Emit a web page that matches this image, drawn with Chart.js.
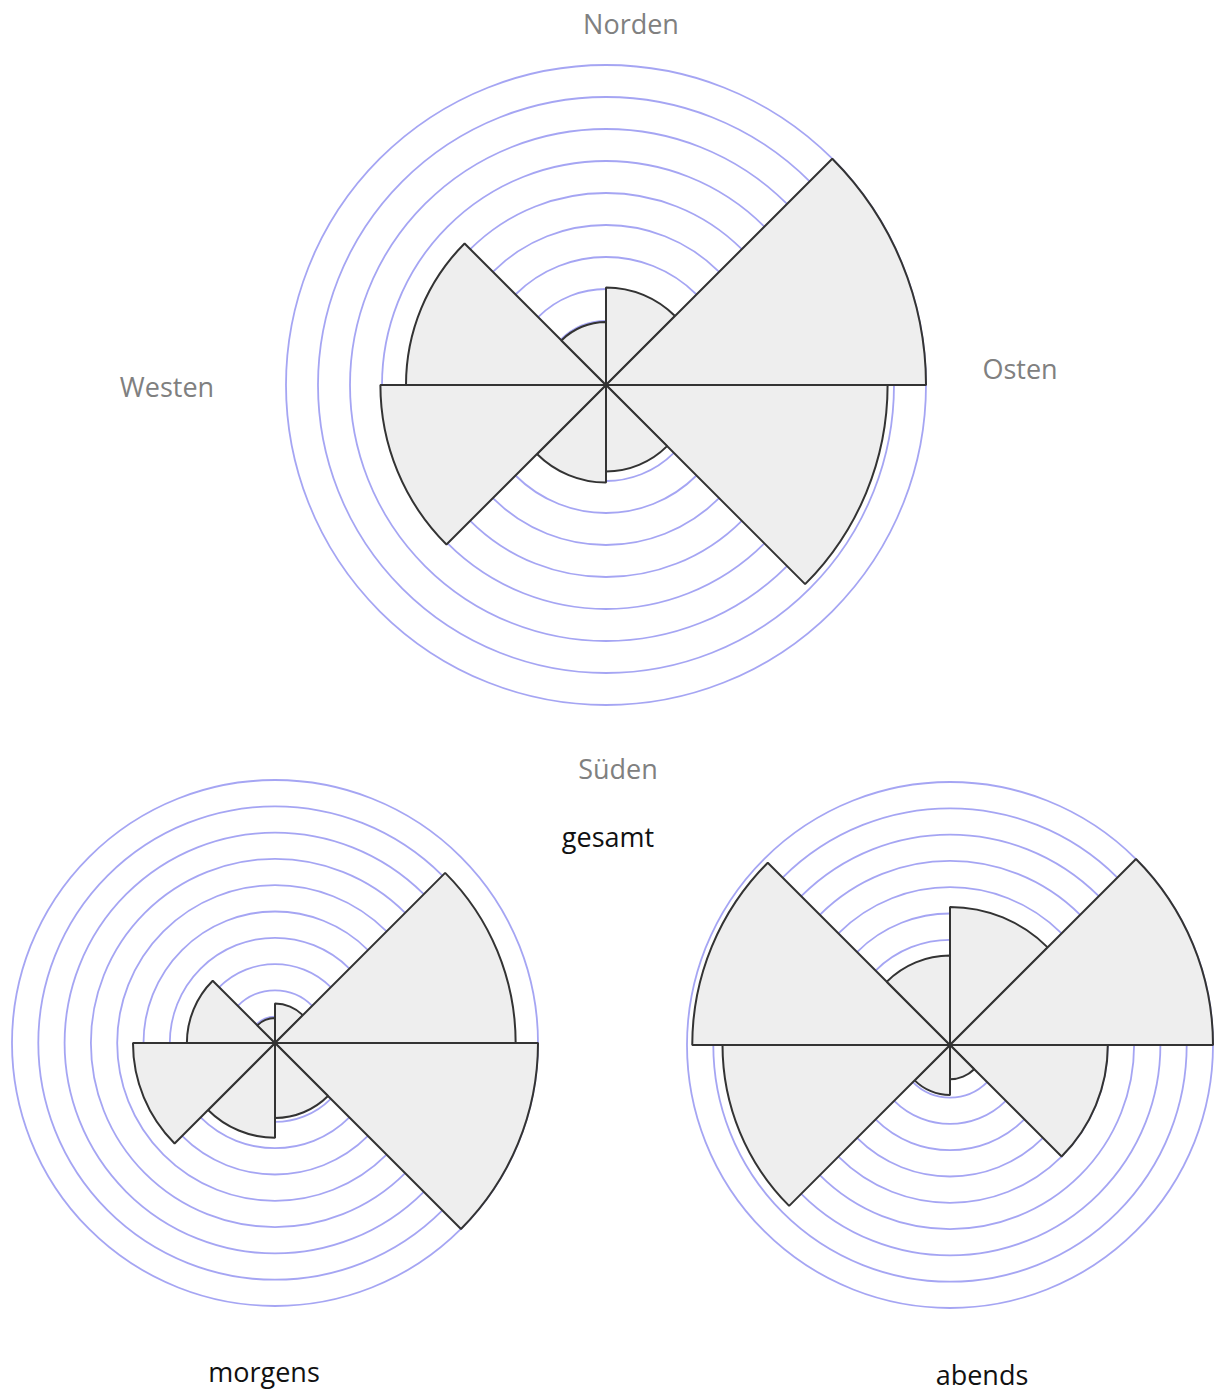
<!DOCTYPE html>
<html>
<head>
<meta charset="utf-8">
<script src="https://cdn.jsdelivr.net/npm/chart.js@4/dist/chart.umd.min.js"></script>
<style>
  html, body { margin: 0; padding: 0; background: #fff; overflow: hidden; width: 1214px; height: 1389px; }
  .wrap { position: absolute; }
  .lbl { position: absolute; transform: translate(-50%, -50%); font-family: "Open Sans", "Noto Sans", sans-serif; font-size: 27px; white-space: nowrap; }
  .dir { color: #808080; }
  .ttl { color: #111; }
</style>
</head>
<body>
<div class="wrap" id="w0" style="left:276px; top:55px; width:660px; height:660px;"><canvas id="c0"></canvas></div>
<div class="wrap" id="w1" style="left:2px; top:770px; width:546px; height:546px;"><canvas id="c1"></canvas></div>
<div class="wrap" id="w2" style="left:677px; top:772px; width:546px; height:546px;"><canvas id="c2"></canvas></div>

<div class="lbl dir" style="left:631px; top:23px;">Norden</div>
<div class="lbl dir" style="left:1020px; top:368px;">Osten</div>
<div class="lbl dir" style="left:618px; top:768px;">Süden</div>
<div class="lbl dir" style="left:167px; top:386px;">Westen</div>
<div class="lbl ttl" style="left:608px; top:836px;">gesamt</div>
<div class="lbl ttl" style="left:264px; top:1371px;">morgens</div>
<div class="lbl ttl" style="left:982px; top:1374px;">abends</div>

<script>
// Wind directions (sectors clockwise from north)
const directions = ['N–NO', 'NO–O', 'O–SO', 'SO–S', 'S–SW', 'SW–W', 'W–NW', 'NW–N'];
// Values per sector (grid ring = 1 unit)
const gesamt  = [3.05, 10, 8.8, 2.7, 3.05, 7.05, 6.25, 1.97];
const morgens = [1.5, 9.15, 10, 2.85, 3.6, 5.4, 3.35, 0.95];
const abends  = [5.25, 10, 6.0, 1.3, 1.9, 8.65, 9.8, 3.4];
const scaleMax = 10;
const scaleStep = 1;

function makeChart(id, values, width) {
  const canvas = document.getElementById(id);
  canvas.width = width; canvas.height = width;
  canvas.style.width = width + 'px'; canvas.style.height = width + 'px';
  return new Chart(canvas, {
    type: 'polarArea',
    data: {
      labels: directions,
      datasets: [{
        data: values,
        backgroundColor: '#eeeeee',
        borderColor: '#333333',
        borderWidth: 2
      }]
    },
    options: {
      responsive: false,
      animation: false,
      devicePixelRatio: 1,
      layout: { padding: 10 },
      plugins: { legend: { display: false }, tooltip: { enabled: false } },
      scales: {
        r: {
          min: 0,
          max: scaleMax,
          ticks: { display: false, stepSize: scaleStep },
          grid: { color: 'rgba(105,105,235,0.6)', lineWidth: 1.8, circular: true },
          angleLines: { display: false },
          pointLabels: { display: false }
        }
      }
    }
  });
}

makeChart('c0', gesamt, 660);
makeChart('c1', morgens, 546);
makeChart('c2', abends, 546);
</script>
</body>
</html>
